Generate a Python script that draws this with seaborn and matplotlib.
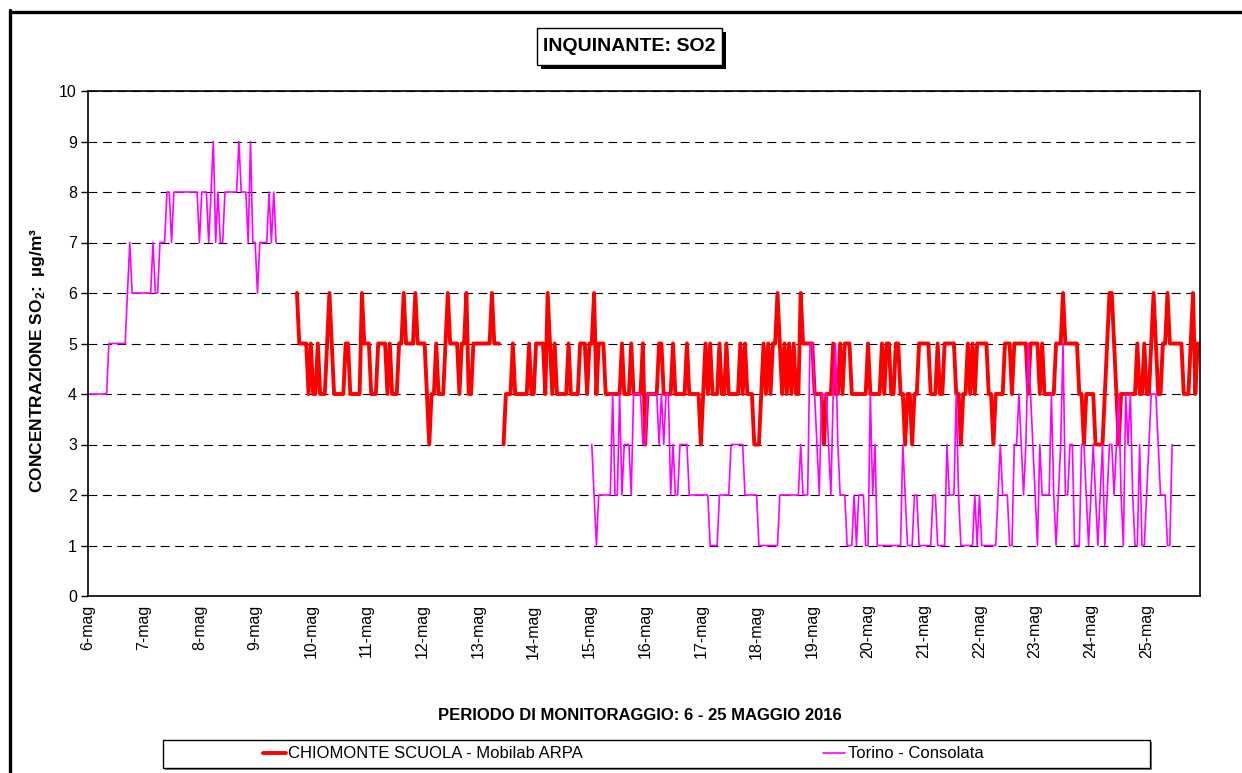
import numpy as np
import pandas as pd
import seaborn as sns
import matplotlib.pyplot as plt
from matplotlib.patches import Rectangle
from matplotlib.lines import Line2D

sns.set_style("white")
plt.rcParams["font.family"] = ["Liberation Sans", "DejaVu Sans"]
plt.rcParams["mathtext.fontset"] = "custom"
plt.rcParams["mathtext.rm"] = "Liberation Sans"
plt.rcParams["mathtext.bf"] = "Liberation Sans:bold"
plt.rcParams["text.color"] = "black"
plt.rcParams["axes.labelcolor"] = "black"
plt.rcParams["xtick.color"] = "black"
plt.rcParams["ytick.color"] = "black"

# --- data: hourly SO2 (ug/m3), one string of 24 hours per day, "." = no data ---
day_labels = [f"{d}-mag" for d in range(6, 26)]

chiomonte = [
    "........................",
    "........................",
    "........................",
    "..................655554",
    "544544456544444554444465",
    "554445555454445565555655",
    "554344544456555545564455",
    "5555556555.3444544444454",
    "455554654544444544445554",
    "556455544444445444544445",
    "344444554444544444544444",
    "345454445445444445454443",
    "334545455654545454465555",
    "544443444544545554444444",
    "544444545544554434434455",
    "555444544555554434454545",
    "555544344445554555555455",
    "554544444555655555544344",
    "443333456654344444445445",
    "445654455655555544456455",
]

torino = [
    "444444444555555556766666",
    "666676677788788888888888",
    "788878978778888889888797",
    "7677778787..............",
    "........................",
    "........................",
    "........................",
    "........................",
    "........................",
    ".32122222242242333244443",
    "344444343442322333322222",
    "222211112222233333322222",
    "211111111122222222232225",
    "543244432453222111212221",
    "142311111111111321112211",
    "111122111132224211111121",
    "211111112322211334323543",
    "213222242123522331113321",
    "232123123323421434211311",
    "234443222113............",
]

RED = "#FF0000"
MAGENTA = "#FF00FF"
W, H = 1242, 773


def to_frame(days):
    vals = [np.nan if c == "." else float(c) for d in days for c in d]
    df = pd.DataFrame({"hour": np.arange(len(vals)), "value": vals})
    # start a new segment after every gap so the line stays broken there
    df["segment"] = df["value"].isna().cumsum()
    return df.dropna()


red_df = to_frame(chiomonte)
mag_df = to_frame(torino)


def fx(px):
    return px / W


def fy(py):
    return 1 - py / H


fig = plt.figure(figsize=(W / 100, H / 100), dpi=100)
ax = fig.add_axes([fx(88), fy(596), fx(1200) - fx(88), fy(91) - fy(596)])

sns.lineplot(data=red_df, x="hour", y="value", units="segment", estimator=None,
             color=RED, linewidth=2.8, ax=ax, legend=False)
sns.lineplot(data=mag_df, x="hour", y="value", units="segment", estimator=None,
             color=MAGENTA, linewidth=1.2, ax=ax, legend=False)

ax.set_xlim(0, 479)
ax.set_ylim(0, 10)
ax.set_yticks(range(0, 11))
ax.set_xticks(range(0, 480, 24))
ax.set_xticklabels(day_labels, rotation=90)
ax.set_xlabel("")
ax.set_ylabel("")
ax.yaxis.grid(True, color="black", linestyle=(0, (8, 5)), linewidth=0.8)
ax.xaxis.grid(False)
ax.set_axisbelow(True)
for sp in ax.spines.values():
    sp.set_color("black")
    sp.set_linewidth(1.2)
ax.tick_params(axis="y", direction="out", length=5, width=1, labelsize=11.5,
               pad=3, left=True, colors="black")
ax.tick_params(axis="x", length=0, labelsize=11.5, pad=6, colors="black")

# axis titles
fig.text(fx(640), fy(716), "PERIODO DI MONITORAGGIO: 6 - 25 MAGGIO 2016",
         ha="center", va="center", fontsize=12, fontweight="bold", color="black")
fig.text(fx(38), fy(360), r"CONCENTRAZIONE SO$_\mathbf{2}$:  µg/m³",
         ha="center", va="center", rotation=90, fontsize=12.5, fontweight="bold",
         color="black")

# title box with drop shadow
fig.patches.append(Rectangle((fx(541), fy(69)), fx(185), fy(0) - fy(37),
                             transform=fig.transFigure, facecolor="black",
                             edgecolor="none", zorder=1))
fig.patches.append(Rectangle((fx(537), fy(65)), fx(185), fy(0) - fy(37),
                             transform=fig.transFigure, facecolor="white",
                             edgecolor="black", linewidth=1, zorder=2))
fig.text(fx(629.5), fy(46.5), "INQUINANTE: SO2", ha="center", va="center",
         fontsize=14, fontweight="bold", color="black", zorder=3)

# legend box with shadow
fig.patches.append(Rectangle((fx(165), fy(770)), fx(987), fy(0) - fy(28),
                             transform=fig.transFigure, facecolor="#808080",
                             edgecolor="none", zorder=1))
fig.patches.append(Rectangle((fx(163), fy(768)), fx(987), fy(0) - fy(28),
                             transform=fig.transFigure, facecolor="white",
                             edgecolor="black", linewidth=1, zorder=2))
entries = [
    (RED, 2.8, "CHIOMONTE SCUOLA - Mobilab ARPA", 423),
    (MAGENTA, 1.2, "Torino - Consolata", 903),
]
for color, lw, label, cx in entries:
    leg = fig.legend(handles=[Line2D([], [], color=color, linewidth=lw)],
                     labels=[label], loc="center", bbox_to_anchor=(fx(cx), fy(754)),
                     frameon=False, fontsize=12, handlelength=1.35,
                     handletextpad=0.15, borderpad=0, labelcolor="black")
    leg.set_zorder(3)

# outer frame (top and left edges visible)
fig.lines.append(Line2D([fx(10), fx(1242)], [fy(11.5), fy(11.5)],
                        transform=fig.transFigure, color="black", linewidth=2.4))
fig.lines.append(Line2D([fx(10), fx(10)], [fy(10), fy(773)],
                        transform=fig.transFigure, color="black", linewidth=2.4))

fig.savefig("out.png", dpi=100, facecolor="white")
